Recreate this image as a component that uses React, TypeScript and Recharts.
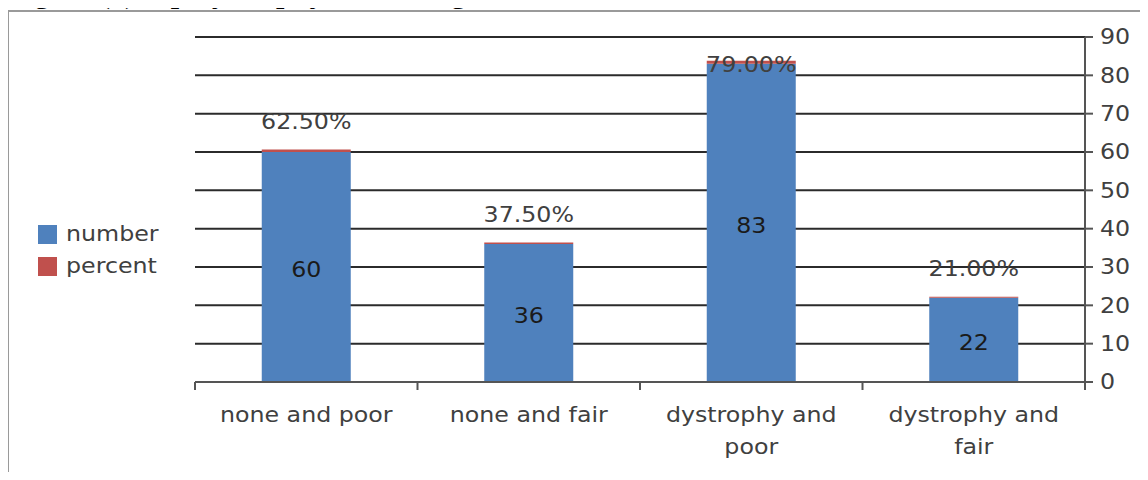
import React from 'react';
import { BarChart, Bar, XAxis, YAxis, CartesianGrid, Legend, LabelList } from 'recharts';

// Chart data
const CATEGORIES = ['none and poor', 'none and fair', 'dystrophy and poor', 'dystrophy and fair'];
const NUMBER_VALUES = [60, 36, 83, 22];
const PERCENT_VALUES = [0.625, 0.375, 0.79, 0.21];
const Y_TICKS = [0, 10, 20, 30, 40, 50, 60, 70, 80, 90];
const TITLE = 'Figure (3) Lip dystrophy and rating';

const data = CATEGORIES.map((category, i) => ({
  category,
  number: NUMBER_VALUES[i],
  percent: PERCENT_VALUES[i],
}));

// Layout and style
const W = 1148;
const H = 480;
const PLOT_TOP = 37;
const FONT = 'DejaVu Sans, Verdana, sans-serif';
const FS = 21;
const SX = 1.13; // horizontal stretch of the labels
const TEXT = '#404040';
const BLUE = '#4f81bd';
const RED = '#c0504d';
const AXIS = '#555555';

const WideText = ({ x, y, anchor = 'middle', fill = TEXT, children }: any) => (
  <text
    transform={`translate(${x},${y}) scale(${SX},1)`}
    textAnchor={anchor}
    dominantBaseline="central"
    fontFamily={FONT}
    fontSize={FS}
    fill={fill}
  >
    {children}
  </text>
);

// Wrap a category name into lines of at most maxChars characters
const wrap = (s: string, maxChars = 14) => {
  const words = s.split(' ');
  const lines: string[] = [];
  let cur = '';
  words.forEach((w) => {
    const next = cur ? cur + ' ' + w : w;
    if (next.length > maxChars && cur) {
      lines.push(cur);
      cur = w;
    } else cur = next;
  });
  if (cur) lines.push(cur);
  return lines;
};

const CategoryTick = (props: any) => {
  const { x, y, payload, index } = props;
  const half = payload.offset ?? 111;
  const lines = wrap(String(payload.value));
  return (
    <g>
      <line x1={x - half} y1={y} x2={x - half} y2={y + 8} stroke={AXIS} strokeWidth={2} />
      {index === CATEGORIES.length - 1 && (
        <line x1={x + half} y1={y} x2={x + half} y2={y + 8} stroke={AXIS} strokeWidth={2} />
      )}
      {lines.map((ln, i) => (
        <WideText key={i} x={x} y={y + 33 + i * 32}>
          {ln}
        </WideText>
      ))}
    </g>
  );
};

const ValueTick = (props: any) => {
  const { x, y, payload } = props;
  return (
    <WideText x={x} y={y} anchor="start">
      {payload.value}
    </WideText>
  );
};

const NumberLabel = (props: any) => {
  const { x, y, width, height, value } = props;
  return (
    <WideText x={x + width / 2} y={y + height / 2 + 3} fill="#1a1a1a">
      {value}
    </WideText>
  );
};

const PercentLabel = (props: any) => {
  const { x, y, width, value } = props;
  const cy = Math.max(y - 28, PLOT_TOP + 28);
  return (
    <WideText x={x + width / 2} y={cy}>
      {(value * 100).toFixed(2) + '%'}
    </WideText>
  );
};

const LegendBox = (props: any) => {
  const { payload } = props;
  return (
    <div style={{ fontFamily: FONT, fontSize: FS, color: TEXT }}>
      {(payload || []).map((item: any) => (
        <div key={item.value} style={{ display: 'flex', alignItems: 'center', height: 32 }}>
          <span style={{ width: 19, height: 19, background: item.color, display: 'inline-block', marginRight: 9 }} />
          <span style={{ display: 'inline-block', transform: `scaleX(${SX})`, transformOrigin: 'left center', lineHeight: '32px' }}>
            {item.value}
          </span>
        </div>
      ))}
    </div>
  );
};

export default function App() {
  return (
    <div style={{ position: 'relative', width: W, height: H, margin: -8, overflow: 'hidden', background: '#fff' }}>
      <div
        style={{
          position: 'absolute',
          left: 7,
          top: 10,
          width: W + 20,
          height: H + 20,
          border: '2px solid #9a9a9a',
          boxSizing: 'border-box',
        }}
      />
      <div style={{ position: 'absolute', left: 0, top: 0 }}>
        <BarChart
          width={W}
          height={H}
          data={data}
          margin={{ top: PLOT_TOP, right: 0, bottom: 0, left: 195 }}
          barCategoryGap="30%"
        >
          <CartesianGrid vertical={false} stroke="#2b2b2b" strokeWidth={2} />
          <XAxis
            dataKey="category"
            height={98}
            tickSize={0}
            tickMargin={0}
            tickLine={false}
            axisLine={{ stroke: AXIS, strokeWidth: 2 }}
            tick={<CategoryTick />}
            interval={0}
          />
          <YAxis
            orientation="right"
            width={63}
            domain={[0, 90]}
            ticks={Y_TICKS}
            interval={0}
            tickSize={8}
            tickMargin={7}
            tickLine={{ stroke: AXIS, strokeWidth: 2 }}
            axisLine={{ stroke: AXIS, strokeWidth: 2 }}
            tick={<ValueTick />}
          />
          <Legend
            layout="horizontal"
            verticalAlign="middle"
            align="center"
            content={<LegendBox />}
            wrapperStyle={{ position: 'absolute', left: 38, top: 218, width: 160, height: 70 }}
          />
          <Bar dataKey="number" name="number" stackId="s" fill={BLUE} isAnimationActive={false}>
            <LabelList dataKey="number" content={<NumberLabel />} />
          </Bar>
          <Bar dataKey="percent" name="percent" stackId="s" fill={RED} isAnimationActive={false}>
            <LabelList dataKey="percent" content={<PercentLabel />} />
          </Bar>
        </BarChart>
      </div>
      <div
        style={{
          position: 'absolute',
          left: 8,
          top: -22,
          fontFamily: 'Liberation Serif, Times New Roman, serif',
          fontWeight: 'bold',
          fontSize: 30,
          lineHeight: '30px',
          color: '#000',
          whiteSpace: 'nowrap',
        }}
      >
        {TITLE}
      </div>
    </div>
  );
}
